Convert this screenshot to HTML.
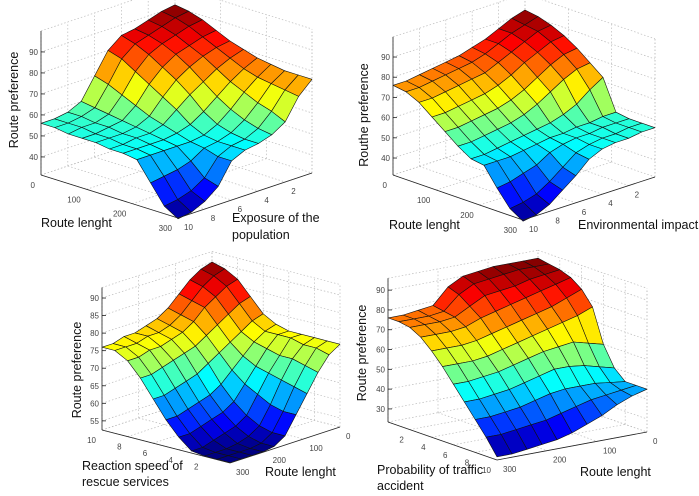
<!DOCTYPE html>
<html><head><meta charset="utf-8"><style>
body{margin:0;background:#fff}
svg{display:block;font-family:"Liberation Sans",Arial,sans-serif}
.tk{font-size:8px;fill:#444}
.tt{font-size:12.5px;fill:#111}
</style></head><body>
<svg id="s" width="699" height="496" viewBox="0 0 699 496"></svg>
<script>
// Surface values: rows = along first floor axis (left corner -> front corner), cols = along second axis (front -> right)
const p1Z=[
[56,56,57,60,70,80,85,86,88,90,91],
[56,56,57,59,68,78,83,85,87,89,90],
[55,56,56,58,65,74,80,83,85,87,88],
[55,55,56,57,62,70,76,80,82,84,85],
[55,55,55,56,59,66,72,76,79,81,82],
[54,54,55,55,57,62,67,71,75,78,80],
[54,54,54,54,55,57,61,66,71,75,78],
[53,53,53,53,53,54,57,62,68,73,77],
[44,45,46,48,52,53,55,59,65,72,76],
[35,36,38,42,50,53,54,57,63,71,76],
[31,32,35,40,50,53,54,56,60,70,76]];
const p2Z=[
[76,76,77,78,79,80,82,84,87,90,92],
[75,75,76,77,78,79,81,84,87,89,91],
[72,72,73,74,75,76,79,82,85,88,89],
[67,67,68,69,70,72,75,79,82,85,86],
[62,62,63,64,65,67,70,74,78,81,82],
[57,57,58,59,60,62,65,69,73,76,77],
[53,53,54,55,56,57,58,60,63,68,72],
[52,52,52,53,54,55,55,56,56,57,57],
[43,44,46,48,52,54,55,55,56,56,56],
[35,36,38,42,47,52,54,55,55,56,56],
[31,32,35,40,45,51,54,55,55,56,56]];
const p3Z=[
[76,76,77,77,78,79,81,84,87,89,90],
[76,76,76,77,77,78,80,83,86,88,89],
[74,74,75,75,76,77,79,82,84,86,87],
[70,70,71,72,73,74,76,78,80,82,83],
[65,65,66,67,68,70,72,74,76,78,79],
[60,60,61,62,63,65,68,71,74,76,77],
[56,56,57,58,59,61,65,69,73,76,76],
[53,53,54,55,56,58,63,68,72,76,76],
[52.5,52.5,52.5,53,54,56,61,67,72,75,76],
[52.5,52.5,52.5,52.5,53,55,60,66,71,75,76],
[52.5,52.5,52.5,52.5,53,55,60,65,70,74,76]];
const p4Z=[
[76,76,77,78,86,90,91,92,92,92,92],
[76,76,76,77,84,88,89,90,91,91,91],
[75,75,75,76,80,84,85,86,88,89,90],
[72,72,72,73,76,78,80,82,84,86,88],
[67,67,67,68,70,72,74,76,78,81,84],
[61,61,61,62,64,66,68,70,72,74,77],
[54,54,55,56,58,60,62,63,64,62,60],
[47,47,48,49,51,53,55,55,54,52,50],
[40,40,41,42,44,46,47,47,47,46,45],
[33,33,34,35,36,38,40,42,43,44,45],
[25,25,26,27,28,30,33,36,40,43,45]];
const p1ZTicks=[40,50,60,70,80,90];
const p2ZTicks=[40,50,60,70,80,90];
const p3ZTicks=[55,60,65,70,75,80,85,90];
const p4ZTicks=[30,40,50,60,70,80,90];
const routeTicks=[0,100,200,300];
const tenTicks=[2,4,6,8,10];

const NS='http://www.w3.org/2000/svg';
const svg=document.getElementById('s');
function mk(tag,attrs,parent){const e=document.createElementNS(NS,tag);for(const k in attrs)e.setAttribute(k,attrs[k]);(parent||svg).appendChild(e);return e;}
function jet(t){const c=v=>Math.round(255*Math.max(0,Math.min(1,v)));return `rgb(${c(1.5-Math.abs(4*t-3))},${c(1.5-Math.abs(4*t-2))},${c(1.5-Math.abs(4*t-1))})`;}

const panels=[
 {id:'exposure',Z:p1Z,L:[41,175],F:[178,218],R:[312,173],zf:31.4,k:2.1,ztop:100,zt:p1ZTicks,
  aT:routeTicks,aMap:v=>v/300,bT:tenTicks,bMap:v=>(10-v)/10},
 {id:'environment',Z:p2Z,L:[393,175],F:[523,220],R:[655,177],zf:31.6,k:2.02,ztop:100,zt:p2ZTicks,
  aT:routeTicks,aMap:v=>v/300,bT:tenTicks,bMap:v=>(10-v)/10},
 {id:'reaction-speed',Z:p3Z,L:[102,430],F:[230,463],R:[340,427],zf:52.4,k:3.51,ztop:93,zt:p3ZTicks,
  aT:[10,8,6,4,2],aMap:v=>(10-v)/10,bT:routeTicks,bMap:v=>(300-v)/300},
 {id:'traffic-accident',Z:p4Z,L:[388,422],F:[497,460],R:[647,432],zf:23.4,k:1.98,ztop:96,zt:p4ZTicks,
  aT:tenTicks,aMap:v=>v/10,bT:routeTicks,bMap:v=>(300-v)/300}
];

panels.forEach(p=>{
 const g=mk('g',{});
 
 
 const P=(a,b,z)=>[p.L[0]+a*(p.F[0]-p.L[0])+b*(p.R[0]-p.F[0]),
   p.L[1]+a*(p.F[1]-p.L[1])+b*(p.R[1]-p.F[1])-(z-p.zf)*p.k];
 const line=(A,B,st,name)=>{const l=mk('line',{x1:A[0],y1:A[1],x2:B[0],y2:B[1],stroke:st.c,'stroke-width':st.w,'stroke-dasharray':st.d||'none'},g);return l;};
 const dot={c:'#bbb',w:0.7,d:'1.5,2'};
 p.zt.concat([p.ztop]).forEach(z=>{
  line(P(0,0,z),P(0,1,z),dot,'gridline');
  line(P(0,1,z),P(1,1,z),dot,'gridline');
 });
 p.aT.forEach(v=>{const a=p.aMap(v);line(P(a,1,p.zf),P(a,1,p.ztop),dot,'gridline');line(P(a,0,p.zf),P(a,1,p.zf),dot,'gridline');});
 p.bT.forEach(v=>{const b=p.bMap(v);line(P(0,b,p.zf),P(0,b,p.ztop),dot,'gridline');line(P(0,b,p.zf),P(1,b,p.zf),dot,'gridline');});
 line(P(0,1,p.zf),P(0,1,p.ztop),dot,'gridline');
 line(P(1,1,p.zf),P(1,1,p.ztop),dot,'gridline');
 line(P(0,0,p.zf),P(0,1,p.zf),dot,'gridline');line(P(0,1,p.zf),P(1,1,p.zf),dot,'gridline');
 const Z=p.Z,N=Z.length-1,M=Z[0].length-1;
 let mn=Infinity,mx=-Infinity;Z.forEach(r=>r.forEach(v=>{mn=Math.min(mn,v);mx=Math.max(mx,v);}));
 const cells=[];
 for(let i=0;i<N;i++)for(let j=0;j<M;j++){
  const zs=[Z[i][j],Z[i+1][j],Z[i+1][j+1],Z[i][j+1]];
  const avg=(zs[0]+zs[1]+zs[2]+zs[3])/4;
  const depth=P((i+0.5)/N,(j+0.5)/M,p.zf)[1];
  cells.push({i,j,zs,avg,depth});
 }
 cells.sort((A,B)=>A.depth-B.depth);
 cells.forEach(c=>{
  const pts=[P(c.i/N,c.j/M,c.zs[0]),P((c.i+1)/N,c.j/M,c.zs[1]),P((c.i+1)/N,(c.j+1)/M,c.zs[2]),P(c.i/N,(c.j+1)/M,c.zs[3])];
  const e=mk('polygon',{points:pts.map(q=>q[0].toFixed(1)+','+q[1].toFixed(1)).join(' '),fill:jet((c.avg-mn)/(mx-mn)),stroke:'#111','stroke-width':0.6,'stroke-linejoin':'round'},g);
  
  
 });
 const ax={c:'#222',w:0.8};
 line(P(0,0,p.zf),P(0,0,p.ztop),ax,'z-axis');
 line(P(0,0,p.zf),P(1,0,p.zf),ax,'floor-axis-a');
 line(P(1,0,p.zf),P(1,1,p.zf),ax,'floor-axis-b');
 p.zt.forEach(z=>{const q=P(0,0,z);line(q,[q[0]+4,q[1]],ax,'z-tick');
  const t=mk('text',{x:q[0]-3,y:q[1]+3,'text-anchor':'end',class:'tk'},g);t.textContent=z;
  });
 p.aT.forEach(v=>{const q=P(p.aMap(v),0,p.zf);
  const t=mk('text',{x:q[0]-6,y:q[1]+13,'text-anchor':'end',class:'tk'},g);t.textContent=v;
  });
 p.bT.forEach(v=>{const q=P(1,p.bMap(v),p.zf);
  const t=mk('text',{x:q[0]+6,y:q[1]+12,'text-anchor':'start',class:'tk'},g);t.textContent=v;
  });
});
</script>
<script>
const titles=[
 ['route-preference-title-1','Route preference',18,100,-90],
 ['route-length-title-1','Route lenght',41,227,0],
 ['exposure-title','Exposure of the',232,222,0],
 ['exposure-title-2','population',232,239,0],
 ['route-preference-title-2','Routhe preference',368,115,-90],
 ['route-length-title-2','Route lenght',389,229,0],
 ['environmental-impact-title','Environmental impact',578,229,0],
 ['route-preference-title-3','Route preference',81,370,-90],
 ['reaction-speed-title','Reaction speed of',82,470,0],
 ['reaction-speed-title-2','rescue services',82,486,0],
 ['route-length-title-3','Route lenght',265,476,0],
 ['route-preference-title-4','Route preference',366,353,-90],
 ['probability-title','Probability of traffic',377,474,0],
 ['probability-title-2','accident',377,490,0],
 ['route-length-title-4','Route lenght',580,476,0]];
const S=document.getElementById('s');
titles.forEach(t=>{
 const e=document.createElementNS('http://www.w3.org/2000/svg','text');
 e.setAttribute('class','tt');
 e.setAttribute('x',t[2]);e.setAttribute('y',t[3]);
 if(t[4]){e.setAttribute('text-anchor','middle');e.setAttribute('transform',`rotate(-90 ${t[2]} ${t[3]})`);}
 e.textContent=t[1];
 
 
 S.appendChild(e);
});
</script>
</body></html>
